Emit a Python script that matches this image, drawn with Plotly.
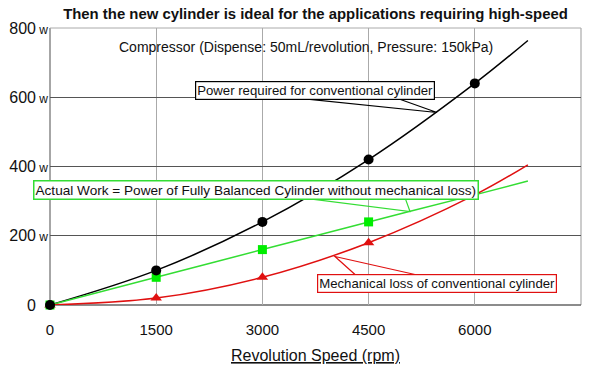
import plotly.graph_objects as go

# ---- data ----
speed_line = [0, 1500, 3000, 4500, 6000, 6750]
power_conventional = [0, 100, 240, 420, 640, 764]
actual_work = [0, 80, 160, 240, 318, 358]
mech_loss = [0, 20, 80, 180, 318, 405]

speed_black_markers = [0, 1500, 3000, 4500, 6000]
power_black_markers = [0, 100, 240, 420, 640]
speed_markers = [0, 1500, 3000, 4500]
green_markers = [0, 80, 160, 240]
red_markers = [0, 20, 80, 180]

x_ticks = [0, 1500, 3000, 4500, 6000]
y_ticks = [0, 200, 400, 600, 800]

title = "Then the new cylinder is ideal for the applications requiring high-speed"
FONT = "Liberation Sans, Arial, sans-serif"

BLACK = "#000000"
GREEN = "#33dd33"
GREEN_M = "#00ee00"
RED = "#e01010"

fig = go.Figure()
for xs, ys, c in [(speed_line, power_conventional, BLACK),
                  (speed_line, actual_work, GREEN),
                  (speed_line, mech_loss, RED)]:
    fig.add_trace(go.Scatter(x=xs, y=ys, mode="lines", line=dict(color=c, width=1.5, shape="spline"),
                             hoverinfo="skip", showlegend=False, cliponaxis=False))

fig.add_trace(go.Scatter(x=speed_markers, y=red_markers, mode="markers",
                         marker=dict(symbol="triangle-up", size=10, color=RED), showlegend=False, cliponaxis=False))
fig.add_trace(go.Scatter(x=speed_markers, y=green_markers, mode="markers",
                         marker=dict(symbol="square", size=9, color=GREEN_M), showlegend=False, cliponaxis=False))
fig.add_trace(go.Scatter(x=speed_black_markers, y=power_black_markers, mode="markers",
                         marker=dict(symbol="circle", size=10, color=BLACK), showlegend=False, cliponaxis=False))

ytext = []
for v in y_ticks:
    if v == 0:
        ytext.append("0<span style='font-size:12px;color:rgba(0,0,0,0)'> w</span>")
    else:
        ytext.append(f"{v}<span style='font-size:12px'> w</span>")

shapes = [
    # frame
    dict(type="line", xref="paper", yref="paper", x0=0, x1=1, y0=1, y1=1, line=dict(color="#aaaaaa", width=1), layer="above"),
    dict(type="line", xref="paper", yref="paper", x0=1, x1=1, y0=0, y1=1, line=dict(color="#999999", width=1), layer="below"),
    dict(type="line", xref="paper", yref="paper", x0=0, x1=0, y0=0, y1=1, line=dict(color="#888888", width=1.5), layer="below"),
    dict(type="line", xref="paper", yref="paper", x0=0, x1=1, y0=0, y1=0, line=dict(color="#666666", width=1.5), layer="below"),
    # callout wedges
    dict(type="path", xref="x", yref="y", path="M 3531 597 L 5466 556 L 4901 597", line=dict(color=BLACK, width=1.2)),
    dict(type="path", xref="x", yref="y", path="M 3531 310 L 5085 270 L 5014 310", line=dict(color=GREEN, width=1.2)),
    dict(type="path", xref="x", yref="y", path="M 4308 88 L 4025 140 L 5155 88", line=dict(color=RED, width=1.2)),
]

annotations = [
    dict(text="Compressor (Dispense: 50mL/revolution, Pressure: 150kPa)", x=3616, y=744, xref="x", yref="y",
         showarrow=False, font=dict(family=FONT, size=14, color="#111")),
    dict(text="Power required for conventional cylinder", x=3742, y=620, xref="x", yref="y", showarrow=False,
         font=dict(family=FONT, size=13.2, color="#111"), bgcolor="white", bordercolor=BLACK, borderwidth=1.2, borderpad=1),
    dict(text="Actual Work = Power of Fully Balanced Cylinder without mechanical loss)", x=2910, y=333, xref="x", yref="y",
         showarrow=False, font=dict(family=FONT, size=13.6, color="#111"), bgcolor="white", bordercolor=GREEN,
         borderwidth=1.5, borderpad=1),
    dict(text="Mechanical loss of conventional cylinder", x=5459, y=62, xref="x", yref="y", showarrow=False,
         font=dict(family=FONT, size=13.2, color="#111"), bgcolor="white", bordercolor=RED, borderwidth=1.2, borderpad=1),
    dict(text="<span style='text-decoration:underline'>Revolution Speed (rpm)</span>", x=0.5, y=-0.145,
         xref="paper", yref="paper", yanchor="top", showarrow=False, font=dict(family=FONT, size=16, color="#111")),
]

fig.update_layout(
    width=601, height=367,
    margin=dict(l=50, r=20, t=28, b=62),
    paper_bgcolor="white", plot_bgcolor="white",
    title=dict(text=f"<b>{title}</b>", x=0.5, xref="paper", y=1 - 13.5 / 367, yanchor="middle",
               font=dict(family=FONT, size=14.9, color="#111")),
    xaxis=dict(range=[0, 7500], tickvals=x_ticks, ticktext=[str(v) for v in x_ticks], showgrid=True,
               gridcolor="#aaaaaa", gridwidth=1, zeroline=False, showline=False, ticks="", automargin=False,
               ticklabelstandoff=14, tickfont=dict(family=FONT, size=15, color="#111")),
    yaxis=dict(range=[0, 800], tickvals=y_ticks, ticktext=ytext, showgrid=True, gridcolor="#555555",
               gridwidth=1, zeroline=False, showline=False, ticks="", ticklabelstandoff=1, automargin=False,
               tickfont=dict(family=FONT, size=16, color="#111")),
    shapes=shapes, annotations=annotations,
)

# remove the browser's default 8px page margin so the figure fills the window
fig.write_html("out.html", config={"displayModeBar": False},
               post_script="document.body.style.margin='0';")
